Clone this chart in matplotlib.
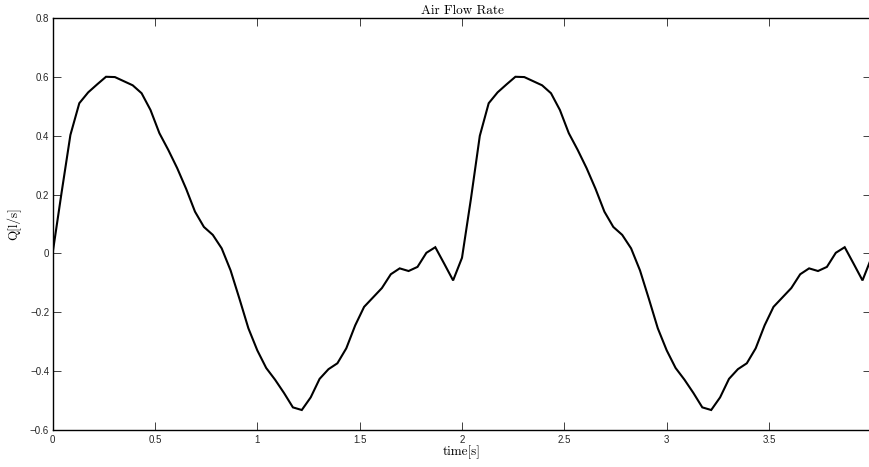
import numpy as np
import matplotlib
matplotlib.use("Agg")
import matplotlib.pyplot as plt

# ---- data ----
flow_cycle1 = [0.0, 0.205, 0.403, 0.511, 0.548, 0.575, 0.601, 0.600, 0.586, 0.572,
               0.545, 0.488, 0.409, 0.352, 0.290, 0.220, 0.142, 0.090, 0.063, 0.017,
               -0.058, -0.155, -0.255, -0.330, -0.390, -0.430, -0.475, -0.524, -0.533, -0.490,
               -0.427, -0.394, -0.374, -0.323, -0.245, -0.182, -0.150, -0.118, -0.071, -0.051,
               -0.060, -0.046, 0.002, 0.021, -0.035, -0.092]
flow_cycle2 = [-0.015, 0.185, 0.400, 0.511, 0.548, 0.575, 0.601, 0.600, 0.586, 0.572,
               0.545, 0.488, 0.409, 0.352, 0.290, 0.220, 0.142, 0.090, 0.063, 0.017,
               -0.058, -0.155, -0.255, -0.330, -0.390, -0.430, -0.475, -0.524, -0.533, -0.490,
               -0.427, -0.394, -0.374, -0.323, -0.245, -0.182, -0.150, -0.118, -0.071, -0.051,
               -0.060, -0.046, 0.002, 0.021, -0.035, -0.092, -0.015]
flow = flow_cycle1 + flow_cycle2
time = np.linspace(0.0, 4.0, len(flow))

xticks = [0, 0.5, 1, 1.5, 2, 2.5, 3, 3.5]
xticklabels = ["0", "0.5", "1", "1.5", "2", "2.5", "3", "3.5"]
yticks = [-0.6, -0.4, -0.2, 0, 0.2, 0.4, 0.6, 0.8]
yticklabels = ["\u22120.6", "\u22120.4", "\u22120.2", "0", "0.2", "0.4", "0.6", "0.8"]

title = "Air Flow Rate"
xlabel = "time[s]"
ylabel = "Q[l/s]"

# ---- figure ----
W, H = 870, 467
fig = plt.figure(figsize=(W / 100, H / 100), dpi=100)
left_px, right_px, top_px, bottom_px = 52.6, 871.4, 18.3, 429.7
ax = fig.add_axes([left_px / W, (H - bottom_px) / H,
                   (right_px - left_px) / W, (bottom_px - top_px) / H])

ax.plot(time, flow, color="black", linewidth=1.5, solid_joinstyle="miter")

ax.set_xlim(0, 4)
ax.set_ylim(-0.6, 0.8)
ax.set_xticks(xticks)
ax.set_xticklabels(xticklabels)
ax.set_yticks(yticks)
ax.set_yticklabels(yticklabels)

tick_font = "Liberation Sans"
for lab in ax.get_xticklabels() + ax.get_yticklabels():
    lab.set_fontfamily(tick_font)
    lab.set_fontsize(7)
    lab.set_color("#262626")

ax.tick_params(axis="both", which="both", direction="in", length=5.8, width=0.7,
               color="#404040", top=True, right=True)
ax.tick_params(axis="x", pad=3.5)
ax.tick_params(axis="y", pad=2.5)

for sp in ax.spines.values():
    sp.set_linewidth(1.0)
    sp.set_color("black")

ax.set_title(title, fontfamily="cmr10", fontsize=9.5, pad=3)
ax.set_xlabel(xlabel, fontfamily="cmr10", fontsize=9.5, labelpad=1)
ax.set_ylabel(ylabel, fontfamily="cmr10", fontsize=9.5, labelpad=6)

fig.savefig("out.png", dpi=100)
